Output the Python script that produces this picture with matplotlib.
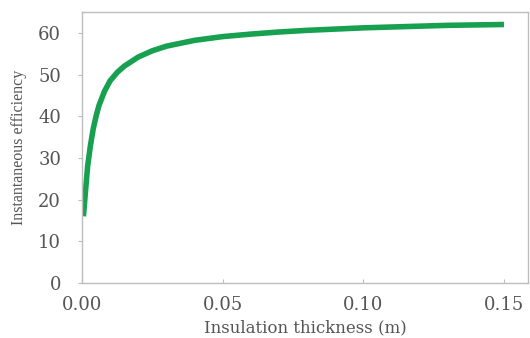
import matplotlib
matplotlib.use("Agg")
import matplotlib.pyplot as plt

# espessura do isolamento (m) e eficiência instantânea correspondente
thickness = [0.0005, 0.001, 0.002, 0.003, 0.004, 0.005, 0.006, 0.008, 0.010,
             0.0125, 0.015, 0.02, 0.025, 0.03, 0.04, 0.05, 0.06, 0.07, 0.08,
             0.09, 0.10, 0.11, 0.12, 0.13, 0.14, 0.15]
efficiency = [16.0, 20.0, 28.0, 33.0, 37.0, 40.0, 42.5, 46.0, 48.5,
              50.5, 52.0, 54.2, 55.7, 56.8, 58.2, 59.1, 59.7, 60.2, 60.6,
              60.9, 61.2, 61.4, 61.6, 61.8, 61.9, 62.0]

x_ticks = [0.00, 0.05, 0.10, 0.15]
y_ticks = [0, 10, 20, 30, 40, 50, 60]

plt.rcParams['font.family'] = ['DejaVu Serif']

fig = plt.figure(figsize=(5.30, 3.38), dpi=100)
ax = fig.add_axes([0.1547, 0.1627, 0.8413, 0.8018])

ax.plot(thickness, efficiency, color='#17a04f', lw=4, solid_capstyle='butt')

ax.set_xlim(0, 0.1585)
ax.set_ylim(0, 65)
ax.set_xticks(x_ticks)
ax.set_xticklabels([f"{t:.2f}" for t in x_ticks])
ax.set_yticks(y_ticks)

for s in ax.spines.values():
    s.set_color('#bdbdbd')
    s.set_linewidth(1)

ax.tick_params(axis='x', direction='in', length=3, color='#bdbdbd',
               labelsize=13, labelcolor='#555555', pad=9)
ax.tick_params(axis='y', direction='out', length=3, color='#bdbdbd',
               labelsize=13, labelcolor='#555555', pad=12)

ax.set_xlabel('Insulation thickness (m)', fontsize=12, color='#555555', labelpad=4)
ax.set_ylabel('Instantaneous efficiency', fontsize=11.5, color='#555555',
              family='Liberation Serif', labelpad=8)

fig.savefig('out.png', dpi=100)
